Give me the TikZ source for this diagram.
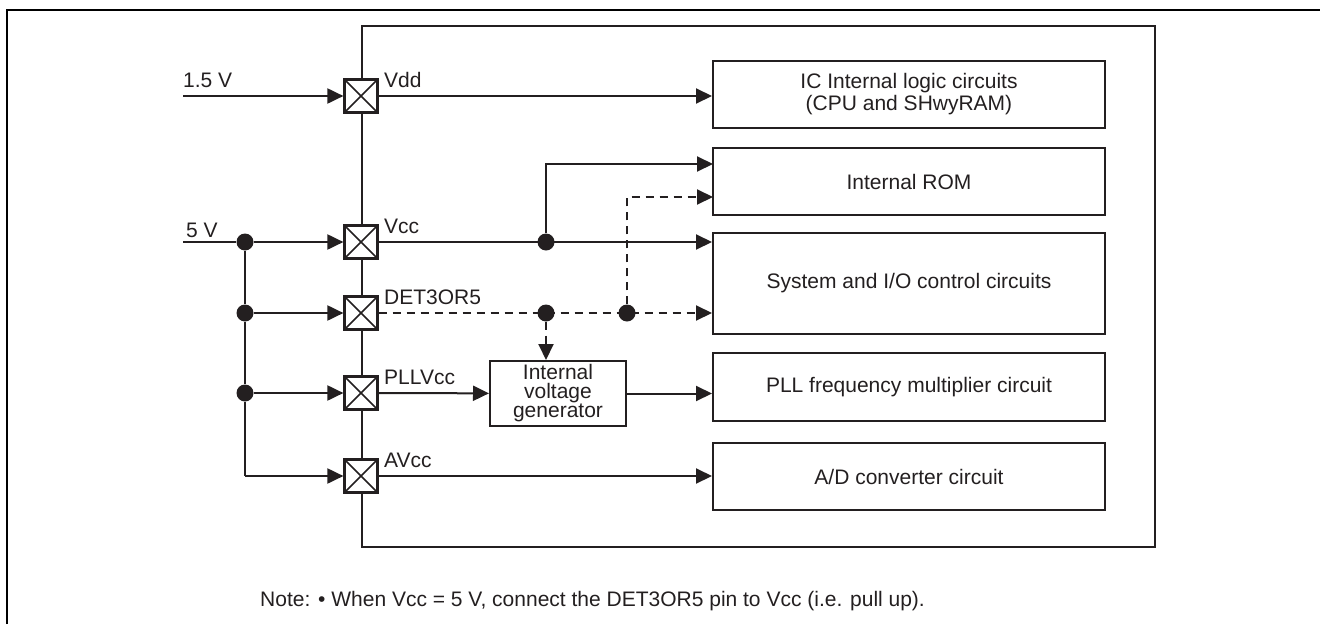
\documentclass[tikz,border=0pt]{standalone}
\usepackage{fontspec}
\setmainfont{Liberation Sans}
\usetikzlibrary{arrows.meta}
\definecolor{ink}{HTML}{231F20}
\begin{document}
\begin{tikzpicture}[x=1pt,y=-1pt,
  font=\fontsize{21}{22}\selectfont,
  every node/.style={text=ink},
  ln/.style={line width=2pt, draw=ink},
  arr/.style={ln,-{Triangle[length=16pt,width=15pt]}},
  dsh/.style={dash pattern=on 8pt off 6pt},
  pin/.style={draw=ink, fill=white, line width=2.2pt, minimum size=33pt, inner sep=0pt,
    path picture={\draw[line width=1.5pt,draw=ink] (path picture bounding box.north west) -- (path picture bounding box.south east) (path picture bounding box.north east) -- (path picture bounding box.south west);}},
  blk/.style={draw=ink, line width=2pt, minimum width=392pt, inner sep=0pt, align=center},
  jdot/.style={circle, fill=ink, minimum size=17pt, inner sep=0pt},
  lbl/.style={anchor=base west, inner sep=0pt}
]
\useasboundingbox (0,0) rectangle (1320,624);
\draw[line width=2.8pt] (7,624) -- (7,10) -- (1320,10);

% chip outline
\node[draw=ink, line width=2pt, minimum width=793pt, minimum height=521pt, inner sep=0pt, anchor=north west] (chip) at (361,25) {};

% right blocks
\node[blk, minimum height=67pt] (ic) at (909,94.5) {IC Internal logic circuits\\(CPU and SHwyRAM)};
\node[blk, minimum height=67pt] (rom) at (909,181.5) {Internal ROM};
\node[blk, minimum height=101pt] (sys) at (909,283.5) {System and I/O control circuits};
\node[blk, minimum height=68pt] (pll) at (909,387) {PLL frequency multiplier circuit};
\node[blk, minimum height=67pt] (ad) at (909,476.5) {A/D converter circuit};

% internal voltage generator
\node[draw=ink, line width=2pt, minimum width=136pt, minimum height=65pt, inner sep=0pt, align=center, font=\fontsize{21}{19}\selectfont] (gen) at (558,393.5) {Internal\\voltage\\generator};

% pins
\node[pin] (vdd) at (361,96) {};
\node[pin] (vcc) at (361,242) {};
\node[pin] (det) at (361,313) {};
\node[pin] (pllvcc) at (361,393) {};
\node[pin] (avcc) at (361,476) {};

% pin labels
\node[lbl] (lvdd) at (384,87) {Vdd};
\node[lbl] (lvcc) at (384,233) {Vcc};
\node[lbl] (ldet) at (384,304) {DET3OR5};
\node[lbl] (lpll) at (384,384) {PLLVcc};
\node[lbl] (lavcc) at (384,467) {AVcc};

% supply labels
\node[lbl] (l15) at (183,87) {1.5 V};
\node[lbl] (l5) at (186,237) {5 V};

% coordinates
\coordinate (in15) at (183,96);
\coordinate (in5) at (183,242);
\coordinate (c4) at (245,476);
\coordinate (r1) at (713,164);
\coordinate (r2) at (713,197);

% left side
\draw[arr] (in15) -- (vdd);
\node[jdot] (d1) at (245,242) {};
\node[jdot] (d2) at (245,313) {};
\node[jdot] (d3) at (245,393) {};
\draw[ln] (in5) -- (d1);
\draw[ln] (d1) -- (d2) -- (d3) -- (c4);
\draw[arr] (d1) -- (vcc);
\draw[arr] (d2) -- (det);
\draw[arr] (d3) -- (pllvcc);
\draw[arr] (c4) -- (avcc);

% right side
\draw[arr] (vdd) -- (ic.west |- vdd);
\draw[arr] (vcc) -- (sys.west |- vcc);
\node[jdot] (d4) at (546,242) {};
\draw[arr] (d4) |- (r1);
\draw[arr,dsh] (det) -- (sys.west |- det);
\node[jdot] (d5) at (546,313) {};
\node[jdot] (d6) at (627,313) {};
\draw[arr,dsh] (d5) -- (d5 |- gen.north);
\draw[arr,dsh] (d6) |- (r2);
\draw[arr] (pllvcc) -- (gen);
\draw[arr] (gen) -- (pll.west |- gen);
\draw[arr] (avcc) -- (ad.west |- avcc);

% note
\node[lbl] (note) at (260,606) {Note: •\ When Vcc = 5 V, connect the DET3OR5 pin to Vcc (i.e. pull up).};
\end{tikzpicture}
\end{document}
